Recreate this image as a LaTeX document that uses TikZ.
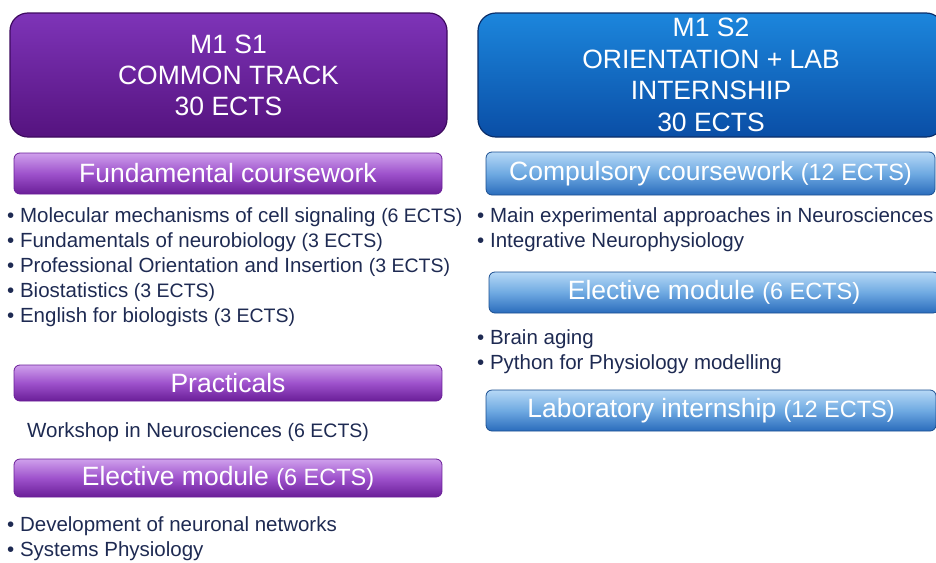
\documentclass[tikz,border=0pt]{standalone}
\usepackage{fontspec}
\setmainfont{Liberation Sans}
\definecolor{ptop}{HTML}{7E34B8}
\definecolor{pbot}{HTML}{55137F}
\definecolor{pedge}{HTML}{3E0A60}
\definecolor{pbtop}{HTML}{CFA0EC}
\definecolor{pbmid}{HTML}{9E52CC}
\definecolor{pbbot}{HTML}{6A1E98}
\definecolor{btop}{HTML}{1C86DC}
\definecolor{bbot}{HTML}{0A4EA6}
\definecolor{bedge}{HTML}{0A2E6A}
\definecolor{bbtop}{HTML}{B6D8F6}
\definecolor{bbmid}{HTML}{6FAAE2}
\definecolor{bbbot}{HTML}{2A6CBC}
\definecolor{bbedge}{HTML}{1A4E90}
\definecolor{navy}{HTML}{1E2A52}
\newcommand{\barsm}{\fontsize{23.5}{28}\selectfont}
\newcommand{\itsm}{\fontsize{19.5}{24}\selectfont}
\begin{document}
\begin{tikzpicture}[x=1pt,y=-1pt,
  hdrP/.style={rounded corners=18pt, draw=pedge, line width=1.2pt, top color=ptop, bottom color=pbot,
    text=white, align=center, font=\fontsize{26.5}{31}\selectfont, inner sep=0pt},
  hdrB/.style={rounded corners=18pt, draw=bedge, line width=1.2pt, top color=btop, bottom color=bbot,
    text=white, align=center, font=\fontsize{26.5}{31.7}\selectfont, inner sep=0pt},
  barP/.style={rounded corners=6pt, draw=pbbot, line width=0.8pt, top color=pbtop, bottom color=pbbot, middle color=pbmid,
    text=white, font=\fontsize{26.5}{30}\selectfont, inner sep=0pt},
  barB/.style={rounded corners=6pt, draw=bbedge, line width=0.8pt, top color=bbtop, bottom color=bbbot, middle color=bbmid,
    text=white, font=\fontsize{26.5}{30}\selectfont, inner sep=0pt},
  item/.style={anchor=west, text=navy, font=\fontsize{20.5}{24}\selectfont, inner sep=0pt}
]
\useasboundingbox (0,0) rectangle (936,562);
\clip (0,0) rectangle (936,562);
% headers
\node[hdrP, minimum width=437pt, minimum height=124pt] (h1) at (228.5,75) {M1 S1\\COMMON TRACK\\30 ECTS};
\node[hdrB, minimum width=466pt, minimum height=124pt] (h2) at (711,75) {M1 S2\\ORIENTATION + LAB\\INTERNSHIP\\30 ECTS};
% left bars
\node[barP, minimum width=428pt, minimum height=41pt] (fund) at (228,173.5) {Fundamental coursework};
\node[barP, minimum width=428pt, minimum height=36pt] (prac) at (228,383) {Practicals};
\node[barP, minimum width=428pt, minimum height=38pt] (elecL) at (228,478) {Elective module {\barsm(6 ECTS)}};
% right bars
\node[barB, minimum width=449pt, minimum height=43pt] (comp) at (710.5,173.5) {Compulsory coursework {\barsm(12 ECTS)}};
\node[barB, minimum width=450pt, minimum height=41pt] (elecR) at (714,292.5) {Elective module {\barsm(6 ECTS)}};
\node[barB, minimum width=450pt, minimum height=41pt] (lab) at (711,410.5) {Laboratory internship {\barsm(12 ECTS)}};
% left items
\node[item] (l1) at (7,217) {• Molecular mechanisms of cell signaling {\itsm(6 ECTS)}};
\node[item] (l2) at (7,242) {• Fundamentals of neurobiology {\itsm(3 ECTS)}};
\node[item] (l3) at (7,267) {• Professional Orientation and Insertion {\itsm(3 ECTS)}};
\node[item] (l4) at (7,292) {• Biostatistics {\itsm(3 ECTS)}};
\node[item] (l5) at (7,317) {• English for biologists {\itsm(3 ECTS)}};
\node[item] (w1) at (27,432) {Workshop in Neurosciences {\itsm(6 ECTS)}};
\node[item] (d1) at (7,526) {• Development of neuronal networks};
\node[item] (d2) at (7,551) {• Systems Physiology};
% right items
\node[item] (r1) at (477,217) {• Main experimental approaches in Neurosciences};
\node[item] (r2) at (477,242) {• Integrative Neurophysiology};
\node[item] (r3) at (477,339) {• Brain aging};
\node[item] (r4) at (477,364) {• Python for Physiology modelling};
\end{tikzpicture}
\end{document}
